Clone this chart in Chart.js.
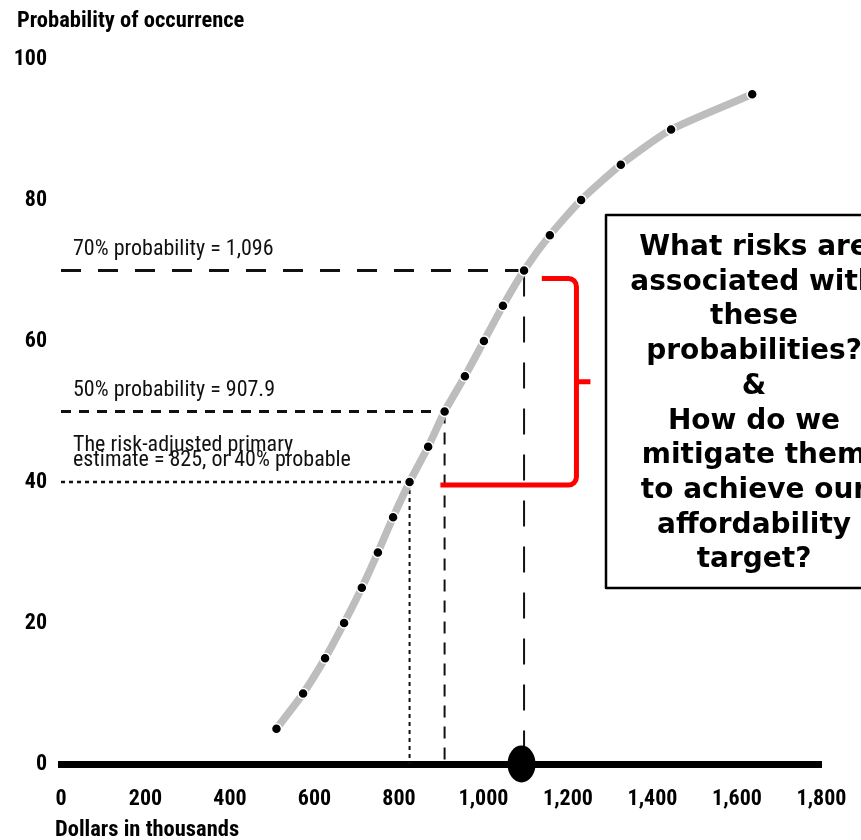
<!DOCTYPE html>
<html>
<head>
<meta charset="utf-8">
<script src="https://cdn.jsdelivr.net/npm/chart.js@4.4.1/dist/chart.umd.min.js"></script>
<style>
  html, body { margin: 0; padding: 0; background: #ffffff; }
  #wrap { width: 861px; height: 840px; }
</style>
</head>
<body>
<div id="wrap"><canvas id="c" width="861" height="840"></canvas></div>
<script>
// Cumulative cost-risk curve: cost (dollars in thousands) vs probability of occurrence (%)
const costs = [510, 573, 625, 670, 712, 750, 786, 825, 869, 908, 956, 1001, 1046, 1096, 1157, 1231, 1325, 1444, 1636];
const probabilities = [5, 10, 15, 20, 25, 30, 35, 40, 45, 50, 55, 60, 65, 70, 75, 80, 85, 90, 95];

// Marked confidence levels
const markerCosts = [825, 907.9, 1096];
const markerProbs = [40, 50, 70];
const markerLabels = [
  ["The risk-adjusted primary", "estimate = 825, or 40% probable"],
  ["50% probability = 907.9"],
  ["70% probability = 1,096"]
];

// Affordability target on the cost axis
const targetCost = 1090;

// Axis ticks and titles
const xTicks = [0, 200, 400, 600, 800, 1000, 1200, 1400, 1600, 1800];
const yTicks = [0, 20, 40, 60, 80, 100];
const xTitle = "Dollars in thousands";
const yTitle = "Probability of occurrence";

const questionLines = [
  "What risks are", "associated with", "these", "probabilities?", "&",
  "How do we", "mitigate them", "to achieve our", "affordability", "target?"
];

// Roboto is variable-width; "condensed" gives a narrow grotesque
const NARROW = "Roboto, 'Liberation Sans', sans-serif";
const BOLD_NARROW = 'condensed bold';

const curve = costs.map((x, i) => ({ x, y: probabilities[i] }));

// dash styles for the three guide levels
const guideStyles = [
  { h: [4, 4], v: [4, 4], hw: 2.5, vw: 2 },
  { h: [10, 8], v: [12, 9], hw: 3, vw: 2 },
  { h: [20, 17], v: [26, 20], hw: 3, vw: 2 }
];

const guideSets = [];
markerCosts.forEach((c, i) => {
  const st = guideStyles[i];
  guideSets.push({
    data: [{ x: 0, y: markerProbs[i] }, { x: c, y: markerProbs[i] }],
    showLine: true, borderColor: '#111', borderWidth: st.hw, borderDash: st.h,
    pointRadius: 0, order: 3, clip: false
  });
  guideSets.push({
    data: [{ x: c, y: markerProbs[i] }, { x: c, y: 0 }],
    showLine: true, borderColor: '#111', borderWidth: st.vw, borderDash: st.v,
    pointRadius: 0, order: 3, clip: false
  });
});

const overlay = {
  id: 'overlay',
  afterDatasetsDraw(chart) {
    const ctx = chart.ctx;
    const xs = chart.scales.x, ys = chart.scales.y;
    const ca = chart.chartArea;
    ctx.save();

    // target marker on the cost axis
    ctx.fillStyle = '#000';
    ctx.beginPath();
    ctx.ellipse(xs.getPixelForValue(targetCost), ys.getPixelForValue(0), 14, 18.5, 0, 0, Math.PI * 2);
    ctx.fill();

    // labels above the guide lines
    ctx.fillStyle = '#111';
    ctx.font = "condensed 22px " + NARROW;
    ctx.textAlign = 'left';
    ctx.textBaseline = 'alphabetic';
    markerLabels.forEach((lines, i) => {
      const yb = ys.getPixelForValue(markerProbs[i]);
      const n = lines.length;
      lines.forEach((t, k) => {
        ctx.fillText(t, ca.left + 12, yb - 16 - (n - 1 - k) * 15);
      });
    });

    // red bracket spanning 40% .. 70%
    const yTop = ys.getPixelForValue(markerProbs[2]) + 8;
    const yBot = ys.getPixelForValue(markerProbs[0]) + 3;
    const xBar = xs.getPixelForValue(1220);
    const r = 8;
    ctx.strokeStyle = '#ff0000';
    ctx.lineWidth = 5;
    ctx.lineJoin = 'round';
    ctx.beginPath();
    ctx.moveTo(xs.getPixelForValue(1138), yTop);
    ctx.lineTo(xBar - r, yTop);
    ctx.arcTo(xBar, yTop, xBar, yTop + r, r);
    ctx.lineTo(xBar, yBot - r);
    ctx.arcTo(xBar, yBot, xBar - r, yBot, r);
    ctx.lineTo(xs.getPixelForValue(898), yBot);
    ctx.stroke();
    const yMid = (yTop + yBot) / 2;
    ctx.beginPath();
    ctx.moveTo(xBar, yMid);
    ctx.lineTo(xBar + 14, yMid);
    ctx.stroke();

    // question box
    const bx = 606, by = 215, bw = 296, bh = 373;
    ctx.fillStyle = '#fff';
    ctx.fillRect(bx, by, bw, bh);
    ctx.strokeStyle = '#000';
    ctx.lineWidth = 2.5;
    ctx.strokeRect(bx, by, bw, bh);
    ctx.fillStyle = '#000';
    ctx.font = "bold 28px 'DejaVu Sans', Verdana, sans-serif";
    ctx.textAlign = 'center';
    questionLines.forEach((t, k) => {
      ctx.fillText(t, bx + bw / 2, by + 40 + k * 34.7);
    });

    // axis titles
    ctx.textAlign = 'left';
    ctx.font = BOLD_NARROW + " 22.5px " + NARROW;
    ctx.fillText(yTitle, 17, 27);
    ctx.fillText(xTitle, ca.left - 6, 836);
    ctx.restore();
  }
};

new Chart(document.getElementById('c'), {
  type: 'scatter',
  data: {
    datasets: [
      {
        data: curve, showLine: true, borderColor: '#bdbdbd', borderWidth: 7.5,
        tension: 0.2, pointRadius: 5, pointBackgroundColor: '#000',
        pointBorderColor: '#fff', pointBorderWidth: 1.5, order: 0
      },
      ...guideSets
    ]
  },
  options: {
    responsive: false,
    devicePixelRatio: 1,
    animation: false,
    layout: { padding: { top: 59, right: 39.5, bottom: 0, left: 0 } },
    plugins: { legend: { display: false }, tooltip: { enabled: false }, title: { display: false } },
    scales: {
      x: {
        type: 'linear', min: 0, max: 1800,
        grid: { display: false, drawTicks: false },
        border: { display: true, color: '#000', width: 7 },
        afterBuildTicks: s => { s.ticks = xTicks.map(v => ({ value: v })); },
        afterFit: s => { s.height = 76; s.paddingLeft = 0; s.paddingRight = 0; },
        ticks: {
          autoSkip: false, maxRotation: 0, padding: 22, color: '#000',
          font: { family: NARROW, size: 22, weight: BOLD_NARROW },
          callback: v => v.toLocaleString('en-US')
        }
      },
      y: {
        type: 'linear', min: 0, max: 100,
        grid: { display: false, drawTicks: false },
        border: { display: false },
        afterBuildTicks: s => { s.ticks = yTicks.map(v => ({ value: v })); },
        afterFit: s => { s.width = 61; s.paddingTop = 0; s.paddingBottom = 0; },
        ticks: {
          padding: 14, color: '#000',
          font: { family: NARROW, size: 22, weight: BOLD_NARROW }
        }
      }
    }
  },
  plugins: [overlay]
});
</script>
</body>
</html>
